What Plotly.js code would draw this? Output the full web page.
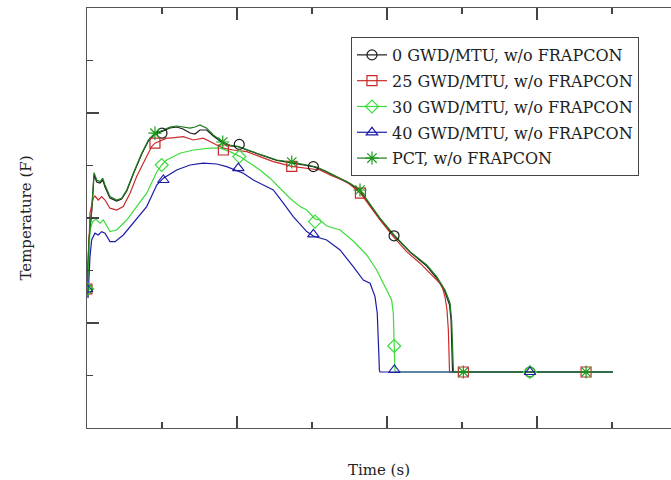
<!DOCTYPE html>
<html>
<head>
<meta charset="utf-8">
<script src="https://cdn.plot.ly/plotly-3.0.1.min.js"></script>
<style>html,body{margin:0;padding:0;background:#fff;overflow:hidden}</style>
</head>
<body>
<div id="chart" style="width:671px;height:480px"></div>
<script>
// ---- Data (time in s, temperature in F) ----
const seriesNames = ["0 GWD/MTU, w/o FRAPCON", "25 GWD/MTU, w/o FRAPCON", "30 GWD/MTU, w/o FRAPCON", "40 GWD/MTU, w/o FRAPCON", "PCT, w/o FRAPCON"];

const t0 = [0,1.3,3.1,4.7,6.5,8.7,10.5,12,15.3,19.8,23.1,26.5,30.9,36.5,40.9,45.3,50.9,55.3,59.8,64,68.7,72,75.3,79.8,84.2,90.5,95.3,101,106.5,113.1,119.8,126.5,136.5,146.5,150.9,159.8,168.7,175.3,182,188.7,195.3,204.7,215.3,226.5,233.1,238.7,241.7,242.7,243.2,243.7,270,300,330,350.5];
const y0 = [695,940,1080,1265,1230,1225,1240,1205,1150,1135,1145,1185,1270,1370,1435,1470,1485,1500,1505,1495,1475,1470,1490,1490,1460,1425,1410,1407,1390,1374,1355,1338,1325,1313,1307,1280,1245,1220,1185,1115,1045,962,880,810,750,680,615,540,290,280,280,279,280,280];

const t25 = [0,1,2,4.2,5.3,7.5,9.8,12,15.3,19.8,24.2,28.7,33.1,38.7,43.1,45.3,47.5,53.1,55.3,64.2,70.9,77.5,84.2,90.9,97.5,106.5,115.3,124.2,136.5,146.5,155.3,162,173.1,182.3,188.7,195.3,204.2,213.1,222,230.9,236.5,238.7,240,240.9,241.1,241.3,241.7,270,300,330,350.5];
const y25 = [695,840,1075,1149,1160,1140,1157,1140,1099,1090,1107,1174,1257,1340,1407,1424,1432,1449,1449,1457,1440,1449,1424,1399,1390,1382,1357,1332,1308,1299,1290,1265,1232,1174,1107,1040,957,882,824,757,715,655,590,490,390,290,280,280,280,280,280];

const t30 = [0,1,2,3.8,6,8.7,10.9,13.1,15.3,19.8,26.5,33.1,39.8,46.5,49.8,53.1,62,70.9,82,88.7,95.3,102,108.7,115.3,122,128.7,135.3,142,146.5,152,155.3,159.8,168.7,177.5,186.5,193.1,199.8,203.1,204.2,204.7,205,205.3,206,240,270,300,330,350.5];
const y30 = [695,790,990,1032,1044,1024,1040,1007,982,990,1040,1107,1174,1280,1315,1340,1374,1390,1399,1399,1382,1357,1324,1290,1249,1199,1149,1107,1090,1045,1040,1010,990,935,865,790,690,640,573,473,340,290,280,280,280,280,280,280];

const t40 = [0,0.7,2,3.1,5.3,7.5,9.8,12,15.3,18.7,24.2,30.9,39.8,46.5,50.9,59.8,68.7,77.5,86.5,93.1,98.7,104.2,110.9,117.5,124.2,130.9,137.5,146.5,150.9,159.8,168.7,177.5,184.2,188.7,192,193.5,194.2,194.7,194.9,195.3,240,270,300,330,350.5];
const y40 = [695,650,857,940,974,965,982,974,932,932,965,1024,1107,1215,1249,1290,1315,1324,1320,1307,1290,1274,1240,1215,1190,1124,1057,982,960,940,890,807,740,724,657,574,474,340,290,280,280,280,280,280,280];

const tPCT = [0,1.3,3.1,4.7,6.5,8.7,10.5,12,15.3,19.8,23.1,26.5,30.9,36.5,40.9,45.3,50.9,55.3,59.8,64,68.7,72,75.3,79.8,84.2,90.5,95.3,100.9,106.5,113.1,119.8,126.5,136.5,146.5,153.1,159.8,168.7,175.3,182,188.7,195.3,204.7,215.3,226.5,233.1,238.7,242,243.1,243.7,243.8,244.3,270,300,330,350.5];
const yPCT = [695,940,1090,1277,1240,1232,1249,1215,1157,1140,1149,1190,1274,1374,1440,1474,1490,1504,1510,1505,1499,1505,1515,1499,1465,1430,1415,1407,1390,1374,1357,1340,1330,1315,1305,1282,1249,1224,1190,1120,1049,965,882,815,757,690,625,540,415,290,280,280,280,280,280];

// marker points
const m0t = [0,50,101.5,150.9,204.7,295.3];
const m0y = [695,1474,1418,1307,961,280];
const m25t = [0,45.3,90.9,136.5,182.3,250.9,332.7];
const m25y = [695,1424,1390,1308,1174,280,280];
const m30t = [0,49.8,101.5,152,204.8,295.3];
const m30y = [695,1315,1357,1032,410,280];
const m40t = [0,50.9,100.9,150.9,204.9,295.3];
const m40y = [695,1240,1299,968,290,280];
const mPCTt = [0,45.3,90.5,136.5,182,250.9,332.7];
const mPCTy = [695,1474,1430,1330,1190,280,280];

// ---- Styling ----
const lineColors = ["#1c1c1c", "#cc2a2a", "#3ddc3d", "#1c1ca8", "#1d7a1d"];
const markerColors = ["#1c1c1c", "#c42a2a", "#3ddc3d", "#1c1ca8", "#1a9a1a"];
const symbols = ["circle-open", "square-open", "diamond-open", "triangle-up-open", "asterisk-open"];

const lines = [[t0,y0],[t25,y25],[t30,y30],[t40,y40],[tPCT,yPCT]];
const marks = [[m0t,m0y],[m25t,m25y],[m30t,m30y],[m40t,m40y],[mPCTt,mPCTy]];

const traces = [];
lines.forEach((d,i) => traces.push({
  x: d[0], y: d[1], type: 'scatter', mode: 'lines',
  line: {color: lineColors[i], width: 1.2}, showlegend: false, hoverinfo: 'skip'
}));
marks.forEach((d,i) => traces.push({
  x: d[0], y: d[1], type: 'scatter', mode: 'markers',
  marker: {symbol: symbols[i], size: i===4 ? 11 : 10, color: markerColors[i], line: {width: 1.2, color: markerColors[i]}},
  showlegend: false, hoverinfo: 'skip'
}));
seriesNames.forEach((n,i) => traces.push({
  x: [null], y: [null], type: 'scatter', mode: 'lines+markers', name: n, legendgroup: 'g'+i,
  line: {color: lineColors[i], width: 1.2},
  marker: {symbol: symbols[i], size: i===4 ? 11 : 10, color: markerColors[i], line: {width: 1.2, color: markerColors[i]}}
}));

const axisFont = {family: 'DejaVu Serif, serif', size: 15, color: '#222'};

const layout = {
  width: 671, height: 480,
  margin: {l: 87, r: 0, t: 8, b: 52},
  paper_bgcolor: '#fff', plot_bgcolor: '#fff',
  showlegend: true,
  xaxis: {
    range: [0, 389.33], showgrid: false, zeroline: false,
    showline: true, linecolor: '#555', linewidth: 1.3, mirror: 'ticks',
    ticks: 'inside', tick0: 0, dtick: 100, ticklen: 12, tickcolor: '#444', tickwidth: 1.3,
    minor: {dtick: 50, ticks: 'inside', ticklen: 6, tickcolor: '#444', tickwidth: 1.3},
    showticklabels: false,
    title: {text: 'Time (s)', font: axisFont, standoff: 36}
  },
  yaxis: {
    range: [0, 2100], showgrid: false, zeroline: false,
    showline: true, linecolor: '#555', linewidth: 1.3, mirror: false,
    ticks: 'inside', tick0: 0, dtick: 525, ticklen: 12, tickcolor: '#444', tickwidth: 1.3,
    minor: {dtick: 262.5, ticks: 'inside', ticklen: 6, tickcolor: '#444', tickwidth: 1.3},
    showticklabels: false,
    title: {text: 'Temperature (F)', font: axisFont, standoff: 50}
  },
  legend: {
    x: 0.452, y: 0.931, xanchor: 'left', yanchor: 'top',
    bgcolor: '#fff', bordercolor: '#444', borderwidth: 1,
    font: {family: 'DejaVu Serif, serif', size: 16, color: '#222'},
    traceorder: 'grouped', tracegroupgap: 2
  }
};

Plotly.newPlot('chart', traces, layout, {staticPlot: true});
</script>
</body>
</html>
